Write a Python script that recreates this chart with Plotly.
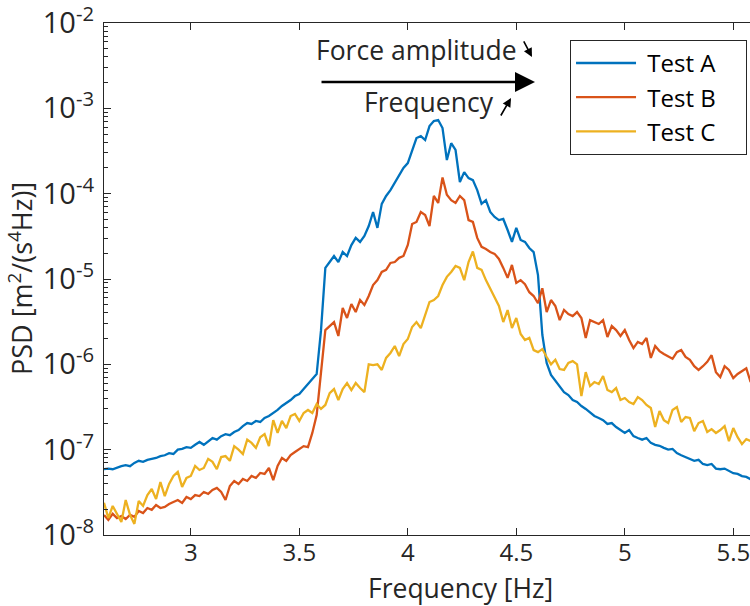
import plotly.graph_objects as go

# Frequency bins (Hz), 0.02 Hz resolution
freq_start = 2.60
freq_step = 0.02
n_bins = 150
frequency = [round(freq_start + freq_step * k, 2) for k in range(n_bins)]

# Acceleration PSD, m^2/(s^4 Hz)
psd_test_a = [
    5.9e-8, 6.0e-8, 5.9e-8, 6.2e-8, 6.4e-8, 6.6e-8, 6.4e-8, 7.0e-8, 7.4e-8, 7.2e-8,
    7.6e-8, 7.8e-8, 8.0e-8, 8.4e-8, 8.6e-8, 9.1e-8, 8.9e-8, 1.0e-7, 1.02e-7, 1.07e-7,
    1.05e-7, 1.14e-7, 1.23e-7, 1.14e-7, 1.26e-7, 1.37e-7, 1.31e-7, 1.44e-7, 1.52e-7, 1.48e-7,
    1.61e-7, 1.70e-7, 1.89e-7, 2.05e-7, 2.0e-7, 2.17e-7, 2.11e-7, 2.35e-7, 2.48e-7, 2.69e-7,
    2.92e-7, 3.25e-7, 3.52e-7, 3.82e-7, 4.25e-7, 4.49e-7, 5.13e-7, 5.88e-7, 6.73e-7, 7.7e-7,
    2.5e-6, 1.35e-5, 1.58e-5, 1.86e-5, 1.58e-5, 2.07e-5, 1.86e-5, 2.5e-5, 3.03e-5, 2.72e-5,
    3.19e-5, 4.18e-5, 6.1e-5, 3.97e-5, 7.6e-5, 9.4e-5, 1.1e-4, 1.33e-4, 1.65e-4, 2.0e-4,
    2.28e-4, 3.25e-4, 4.49e-4, 4.73e-4, 4.25e-4, 6.2e-4, 7.1e-4, 7.3e-4, 5.88e-4, 2.48e-4,
    3.9e-4, 3.25e-4, 1.37e-4, 1.79e-4, 1.52e-4, 1.44e-4, 1.1e-4, 7.6e-5, 8.4e-5, 6.1e-5,
    5.33e-5, 4.9e-5, 5.05e-5, 3.75e-5, 2.72e-5, 3.97e-5, 2.87e-5, 2.72e-5, 2.31e-5, 2.07e-5,
    1.11e-5, 2.22e-6, 1.04e-6, 7.5e-7, 6.37e-7, 5.42e-7, 4.73e-7, 4.37e-7, 3.82e-7, 3.62e-7,
    3.25e-7, 3.0e-7, 2.69e-7, 2.48e-7, 2.35e-7, 2.22e-7, 2.0e-7, 2.05e-7, 1.84e-7, 1.7e-7,
    1.57e-7, 1.7e-7, 1.44e-7, 1.37e-7, 1.31e-7, 1.37e-7, 1.2e-7, 1.14e-7, 1.11e-7, 1.05e-7,
    1.0e-7, 1.02e-7, 9.1e-8, 8.6e-8, 8.2e-8, 7.8e-8, 7.4e-8, 7.6e-8, 6.8e-8, 6.6e-8,
    6.8e-8, 6.0e-8, 5.9e-8, 6.0e-8, 5.6e-8, 5.3e-8, 5.2e-8, 4.9e-8, 4.8e-8, 4.5e-8,
]

psd_test_b = [
    1.72e-8, 1.5e-8, 1.77e-8, 1.58e-8, 1.67e-8, 1.54e-8, 1.72e-8, 1.63e-8, 1.91e-8, 1.81e-8,
    2.07e-8, 1.97e-8, 2.25e-8, 2.07e-8, 2.13e-8, 2.31e-8, 2.44e-8, 2.57e-8, 2.38e-8, 2.79e-8,
    2.64e-8, 2.94e-8, 2.86e-8, 3.19e-8, 3.03e-8, 3.37e-8, 3.56e-8, 3.19e-8, 2.57e-8, 3.75e-8,
    4.3e-8, 3.97e-8, 4.54e-8, 4.3e-8, 4.92e-8, 4.66e-8, 5.33e-8, 5.2e-8, 6.1e-8, 4.4e-8,
    6.44e-8, 8.0e-8, 7.37e-8, 8.67e-8, 9.4e-8, 1.02e-7, 1.1e-7, 1.07e-7, 1.57e-7, 2.54e-7,
    8.6e-7, 2.52e-6, 2.81e-6, 3.13e-6, 2.15e-6, 4.57e-6, 3.49e-6, 5.09e-6, 4.1e-6, 5.67e-6,
    4.96e-6, 6.32e-6, 8.5e-6, 9.7e-6, 1.21e-5, 1.28e-5, 1.54e-5, 1.58e-5, 1.77e-5, 1.86e-5,
    2.5e-5, 4.4e-5, 4.66e-5, 6.1e-5, 5.63e-5, 4.18e-5, 9.4e-5, 7.78e-5, 1.55e-4, 9.7e-5,
    8.4e-5, 7.8e-5, 9.4e-5, 8.4e-5, 4.9e-5, 4.66e-5, 3.03e-5, 2.38e-5, 2.25e-5, 2.07e-5,
    1.97e-5, 1.72e-5, 1.35e-5, 1.03e-5, 1.46e-5, 8.98e-6, 9.7e-6, 8.7e-6, 7.0e-6, 6.32e-6,
    5.2e-6, 7.8e-6, 4.1e-6, 5.67e-6, 4.83e-6, 3.3e-6, 4.33e-6, 3.89e-6, 3.68e-6, 4.1e-6,
    3.49e-6, 2.04e-6, 3.3e-6, 3.13e-6, 2.97e-6, 3.3e-6, 2.09e-6, 2.81e-6, 2.52e-6, 2.15e-6,
    2.52e-6, 1.93e-6, 1.55e-6, 1.83e-6, 1.73e-6, 2.04e-6, 1.19e-6, 1.64e-6, 1.43e-6, 1.32e-6,
    1.25e-6, 1.16e-6, 1.39e-6, 1.47e-6, 1.22e-6, 1.13e-6, 9.5e-7, 8.6e-7, 9.5e-7, 1.07e-6,
    1.28e-6, 8.1e-7, 7.1e-7, 9.5e-7, 8.6e-7, 6.9e-7, 7.7e-7, 8.3e-7, 9.0e-7, 6.2e-7,
]

psd_test_c = [
    2.38e-8, 1.58e-8, 2.19e-8, 1.77e-8, 1.42e-8, 2.57e-8, 1.72e-8, 1.35e-8, 2.5e-8, 2.19e-8,
    2.94e-8, 3.46e-8, 2.64e-8, 4.18e-8, 2.86e-8, 3.97e-8, 4.92e-8, 5.48e-8, 3.66e-8, 4.66e-8,
    4.92e-8, 6.44e-8, 5.78e-8, 6.1e-8, 7.8e-8, 7.2e-8, 5.9e-8, 8.2e-8, 8.4e-8, 7.4e-8,
    1.1e-7, 1.0e-7, 8.9e-8, 1.31e-7, 1.2e-7, 1.05e-7, 1.4e-7, 1.52e-7, 1.1e-7, 2.22e-7,
    1.57e-7, 2.17e-7, 1.79e-7, 2.48e-7, 2.62e-7, 2.17e-7, 2.69e-7, 2.92e-7, 2.69e-7, 3.43e-7,
    3.0e-7, 3.34e-7, 4.6e-7, 5.13e-7, 3.82e-7, 5.13e-7, 6.04e-7, 5.0e-7, 6.04e-7, 5.27e-7,
    4.73e-7, 1.0e-6, 9.8e-7, 1.0e-6, 8.6e-7, 1.19e-6, 1.36e-6, 1.64e-6, 1.25e-6, 1.73e-6,
    1.98e-6, 2.74e-6, 3.13e-6, 2.66e-6, 3.79e-6, 5.38e-6, 5.67e-6, 6.32e-6, 8.5e-6, 1.06e-5,
    1.21e-5, 1.42e-5, 1.35e-5, 9.7e-6, 1.58e-5, 2.1e-5, 1.35e-5, 1.28e-5, 9.7e-6, 7.6e-6,
    6.0e-6, 4.83e-6, 3.13e-6, 4.33e-6, 2.66e-6, 3.49e-6, 2.27e-6, 1.93e-6, 2.04e-6, 1.47e-6,
    1.39e-6, 1.51e-6, 1.22e-6, 1.0e-6, 1.13e-6, 8.8e-7, 8.6e-7, 1.04e-6, 1.09e-6, 1.0e-6,
    4.25e-7, 8.1e-7, 5.57e-7, 6.2e-7, 5.88e-7, 7.3e-7, 5.0e-7, 4.73e-7, 5.27e-7, 3.82e-7,
    4.03e-7, 3.62e-7, 3.43e-7, 4.14e-7, 3.82e-7, 3.34e-7, 3.08e-7, 1.84e-7, 2.84e-7, 2.22e-7,
    2.05e-7, 2.92e-7, 3.16e-7, 2.11e-7, 2.41e-7, 2.35e-7, 1.65e-7, 2.05e-7, 2.17e-7, 1.61e-7,
    1.74e-7, 1.57e-7, 1.7e-7, 1.89e-7, 1.26e-7, 1.79e-7, 1.4e-7, 1.16e-7, 1.33e-7, 1.26e-7,
]

series_names = ["Test A", "Test B", "Test C"]
series_colors = ["#0072BD", "#D95319", "#EDB120"]

x_ticks = [3, 3.5, 4, 4.5, 5, 5.5]
x_tick_labels = ["3", "3.5", "4", "4.5", "5", "5.5"]
y_exponents = [-8, -7, -6, -5, -4, -3, -2]

axis_color = "#262626"
font_family = "Open Sans, Noto Sans, sans-serif"
nbsp = "\u00a0"

fig = go.Figure()
for name, values, color in zip(series_names, [psd_test_a, psd_test_b, psd_test_c], series_colors):
    fig.add_trace(go.Scatter(
        x=frequency, y=values, mode="lines",
        # padded so the legend box gets its wide, airy layout
        name=nbsp + name + nbsp * 4,
        line=dict(color=color, width=2.3),
    ))

# log-axis ticks: majors at each decade, minors at 2..9 within each decade
y_major = [10.0 ** e for e in y_exponents]
y_major_text = [f"10<sup>{e}</sup>" for e in y_exponents]
y_minor = [m * 10.0 ** e for e in y_exponents[:-1] for m in range(2, 10)]

fig.update_layout(
    width=750, height=606,
    margin=dict(l=104, r=0, t=23, b=71),
    paper_bgcolor="white", plot_bgcolor="white",
    font=dict(family=font_family, size=24, color=axis_color),
    legend=dict(
        x=0.9954, xanchor="right", y=0.967, yanchor="top",
        bgcolor="white", bordercolor=axis_color, borderwidth=1,
        font=dict(size=24, color="black"), itemwidth=60, tracegroupgap=0,
    ),
)

fig.update_xaxes(
    range=[2.6, 5.577],
    tickmode="array", tickvals=x_ticks, ticktext=x_tick_labels,
    ticks="inside", ticklen=7, tickwidth=1.2, tickcolor=axis_color,
    showline=True, linecolor=axis_color, linewidth=1.3, mirror="ticks",
    showgrid=False, zeroline=False,
    tickfont=dict(size=24), ticklabelstandoff=-4, ticklabeloverflow="allow",
)

fig.update_yaxes(
    type="log", range=[-8, -2],
    tickmode="array", tickvals=y_major, ticktext=y_major_text,
    ticks="inside", ticklen=7, tickwidth=1.2, tickcolor=axis_color,
    minor=dict(tickmode="array", tickvals=y_minor, ticks="inside", ticklen=4,
               tickwidth=1, tickcolor=axis_color, showgrid=False),
    showline=True, linecolor=axis_color, linewidth=1.3, mirror=False,
    showgrid=False, zeroline=False,
    tickfont=dict(size=29), ticklabelstandoff=3, ticklabeloverflow="allow",
)

# Axis titles
fig.add_annotation(
    xref="paper", yref="paper", x=0.5526, y=-0.1035,
    text="Frequency [Hz]", showarrow=False,
    font=dict(size=26.5, color=axis_color), xanchor="center", yanchor="middle",
)
fig.add_annotation(
    xref="paper", yref="paper", x=-0.13, y=0.5,
    text="PSD [m<sup>2</sup>/(s<sup>4</sup>Hz)]", showarrow=False, textangle=-90,
    font=dict(size=27, color=axis_color), xanchor="center", yanchor="middle",
)

# Sweep direction arrow with its captions
fig.add_annotation(
    xref="paper", yref="paper", x=0.6672, y=0.8848,
    ax=-215, ay=0, axref="pixel", ayref="pixel",
    text="", showarrow=True, arrowhead=2, arrowsize=1.6, arrowwidth=2.5, arrowcolor="black",
)
fig.add_annotation(
    xref="paper", yref="paper", x=0.4845, y=0.947,
    text="Force amplitude", showarrow=False,
    font=dict(size=26.5, color=axis_color), xanchor="center", yanchor="middle",
)
fig.add_annotation(
    xref="paper", yref="paper", x=0.503, y=0.8457,
    text="Frequency", showarrow=False,
    font=dict(size=26.5, color=axis_color), xanchor="center", yanchor="middle",
)
# decreasing force amplitude
fig.add_annotation(
    xref="paper", yref="paper", x=0.6625, y=0.9336,
    ax=-9, ay=-17, text="", showarrow=True,
    arrowhead=2, arrowsize=1.1, arrowwidth=1.6, arrowcolor="black",
)
# increasing frequency
fig.add_annotation(
    xref="paper", yref="paper", x=0.630, y=0.8535,
    ax=-11, ay=19, text="", showarrow=True,
    arrowhead=2, arrowsize=1.1, arrowwidth=1.6, arrowcolor="black",
)

fig.write_html("out.html")
